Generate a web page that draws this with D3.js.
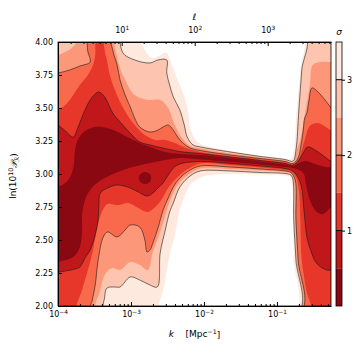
<!DOCTYPE html>
<html>
<head>
<meta charset="utf-8">
<script src="https://cdn.jsdelivr.net/npm/d3@7"></script>
<style>
	body { margin: 0; background: #fff; }
	text { font-family: "DejaVu Sans", sans-serif; fill: #000; }
</style>
</head>
<body>
<div id="chart"></div>
<script>
// filled contour levels (sigma) and the ones that get a black line
const levels = [0.5, 1, 1.5, 2, 2.5, 3, 3.5];
const lineLevels = [1, 2, 3];
const cbarTicks = [1, 2, 3];

const kRange = [1e-4, 0.55];
const lnPRange = [2, 4];
const xMajor = [1e-4, 1e-3, 1e-2, 1e-1];
const yTicks = [2.0, 2.25, 2.5, 2.75, 3.0, 3.25, 3.5, 3.75, 4.0];
const ellMajor = [10, 100, 1000];
const ellPerK = 1.34e4; // l ~ k * D_ls

// contour regions, points are [log10 k, ln(10^10 P)]
// sigma > 3.5 (white)
const sig35Upper = [[-2.86,4.05],[-2.81,3.94],[-2.71,3.88],[-2.60,3.90],[-2.52,3.92],[-2.44,3.83],[-2.36,3.71],[-2.29,3.62],[-2.22,3.48],[-2.19,3.35],[-2.12,3.26],[-2.05,3.23],[-1.64,3.174],[-1.23,3.140],[-0.89,3.117],[-0.81,3.114],[-0.77,3.182],[-0.73,3.485],[-0.68,3.788],[-0.66,4.05]];
const sig35Lower = [[-2.60,1.95],[-2.56,2.121],[-2.53,2.197],[-2.47,2.386],[-2.40,2.538],[-2.33,2.727],[-2.26,2.841],[-2.19,2.917],[-2.11,2.955],[-1.99,2.985],[-1.64,3.000],[-1.23,2.996],[-0.89,2.989],[-0.82,2.977],[-0.79,2.917],[-0.78,2.652],[-0.77,2.348],[-0.75,1.95]];
// sigma > 3
const sig3Upper = [[-3.11,4.05],[-3.11,3.917],[-2.95,3.864],[-2.74,3.841],[-2.63,3.864],[-2.51,3.864],[-2.51,3.765],[-2.47,3.674],[-2.42,3.583],[-2.33,3.485],[-2.27,3.371],[-2.23,3.280],[-2.15,3.220],[-2.05,3.205],[-1.64,3.167],[-1.23,3.133],[-0.89,3.110],[-0.78,3.098],[-0.74,3.182],[-0.70,3.485],[-0.66,3.788],[-0.62,4.05]];
const sig3Lower = [[-3.36,1.95],[-3.36,2.068],[-3.33,2.136],[-3.22,2.144],[-3.15,2.144],[-3.01,2.220],[-2.88,2.197],[-2.74,2.159],[-2.64,2.144],[-2.60,2.402],[-2.53,2.576],[-2.47,2.712],[-2.42,2.780],[-2.33,2.902],[-2.19,2.985],[-2.05,3.023],[-1.64,3.023],[-1.23,3.011],[-0.89,3.004],[-0.81,2.992],[-0.78,2.955],[-0.77,2.652],[-0.74,2.348],[-0.71,1.95]];
// sigma > 2.5
const sig25Corner = [[-4.10,4.05],[-4.10,3.902],[-3.90,3.924],[-3.77,3.977],[-3.73,4.05]];
const sig25Upper = [[-3.19,4.05],[-3.18,3.864],[-3.08,3.712],[-2.95,3.598],[-2.77,3.561],[-2.60,3.561],[-2.49,3.500],[-2.40,3.371],[-2.30,3.273],[-2.19,3.212],[-2.05,3.193],[-1.64,3.155],[-1.23,3.125],[-0.89,3.102],[-0.78,3.087],[-0.73,3.182],[-0.68,3.258],[-0.62,3.447],[-0.55,3.674],[-0.51,3.826],[-0.41,3.848],[-0.15,3.864],[-0.15,4.05]];
const sig25Lower = [[-3.47,1.95],[-3.42,2.121],[-3.36,2.235],[-3.26,2.288],[-3.15,2.273],[-3.01,2.333],[-2.88,2.311],[-2.77,2.273],[-2.70,2.409],[-2.60,2.561],[-2.53,2.689],[-2.45,2.818],[-2.36,2.917],[-2.22,2.992],[-2.05,3.042],[-1.64,3.038],[-1.23,3.027],[-0.89,3.015],[-0.81,3.004],[-0.77,2.955],[-0.75,2.652],[-0.73,2.348],[-0.70,1.95]];
// sigma > 2
const sig2Corner = [[-4.10,4.05],[-4.10,3.758],[-4.00,3.765],[-3.84,3.788],[-3.70,3.818],[-3.56,3.848],[-3.59,3.924],[-3.64,4.05]];
const sig2Upper = [[-3.26,4.05],[-3.25,3.939],[-3.19,3.826],[-3.15,3.712],[-3.08,3.598],[-3.01,3.508],[-2.95,3.424],[-2.88,3.356],[-2.74,3.318],[-2.63,3.333],[-2.56,3.356],[-2.49,3.371],[-2.42,3.333],[-2.36,3.280],[-2.29,3.235],[-2.19,3.197],[-2.05,3.178],[-1.64,3.144],[-1.23,3.117],[-0.89,3.095],[-0.78,3.080],[-0.71,3.121],[-0.67,3.220],[-0.64,3.333],[-0.62,3.424],[-0.59,3.462],[-0.56,3.561],[-0.52,3.652],[-0.41,3.606],[-0.32,3.545],[-0.23,3.485],[-0.15,3.455],[-0.15,4.05]];
const sig2Lower = [[-3.56,1.95],[-3.53,2.045],[-3.49,2.159],[-3.45,2.348],[-3.38,2.523],[-3.32,2.561],[-3.19,2.523],[-3.08,2.576],[-3.01,2.614],[-2.88,2.598],[-2.81,2.500],[-2.78,2.409],[-2.74,2.424],[-2.70,2.477],[-2.63,2.591],[-2.56,2.727],[-2.49,2.818],[-2.42,2.902],[-2.33,2.970],[-2.19,3.030],[-2.05,3.061],[-1.64,3.053],[-1.23,3.038],[-0.89,3.023],[-0.81,3.011],[-0.75,2.955],[-0.74,2.652],[-0.71,2.348],[-0.68,1.95]];
// sigma > 1.5
const sig15Corner = [[-4.10,4.05],[-4.10,3.470],[-4.00,3.485],[-3.90,3.523],[-3.81,3.583],[-3.70,3.674],[-3.59,3.750],[-3.52,3.826],[-3.49,3.902],[-3.49,3.977],[-3.48,4.05]];
const sig15Upper = [[-3.34,4.05],[-3.36,3.939],[-3.33,3.864],[-3.29,3.750],[-3.22,3.636],[-3.15,3.545],[-3.05,3.447],[-2.95,3.371],[-2.81,3.295],[-2.67,3.258],[-2.53,3.258],[-2.40,3.235],[-2.26,3.201],[-2.05,3.167],[-1.64,3.136],[-1.23,3.110],[-0.89,3.087],[-0.78,3.072],[-0.71,3.106],[-0.66,3.182],[-0.62,3.258],[-0.55,3.364],[-0.44,3.386],[-0.33,3.356],[-0.23,3.318],[-0.15,3.295],[-0.15,4.05]];
const sig15Lower = [[-3.73,1.95],[-3.67,2.121],[-3.59,2.273],[-3.52,2.424],[-3.47,2.576],[-3.40,2.712],[-3.32,2.773],[-3.18,2.765],[-3.04,2.780],[-2.90,2.742],[-2.77,2.712],[-2.64,2.765],[-2.56,2.826],[-2.49,2.894],[-2.40,2.955],[-2.26,3.023],[-2.05,3.080],[-1.64,3.068],[-1.23,3.049],[-0.89,3.030],[-0.81,3.019],[-0.74,2.977],[-0.70,2.879],[-0.68,2.652],[-0.66,2.348],[-0.60,2.121],[-0.55,1.95]];
// sigma > 1
const sig1Upper = [[-4.10,3.386],[-4.00,3.371],[-3.90,3.326],[-3.79,3.280],[-3.73,3.348],[-3.63,3.485],[-3.53,3.583],[-3.44,3.621],[-3.36,3.583],[-3.25,3.462],[-3.15,3.394],[-3.05,3.333],[-2.96,3.280],[-2.88,3.242],[-2.74,3.220],[-2.60,3.201],[-2.47,3.186],[-2.33,3.170],[-2.05,3.155],[-1.64,3.129],[-1.23,3.102],[-0.89,3.080],[-0.78,3.068],[-0.71,3.098],[-0.64,3.159],[-0.58,3.205],[-0.48,3.182],[-0.38,3.144],[-0.23,3.083],[-0.15,3.061],[-0.15,4.05],[-4.10,4.05]];
const sig1Lower = [[-4.10,2.273],[-4.00,2.258],[-3.90,2.265],[-3.77,2.280],[-3.70,2.295],[-3.63,2.364],[-3.56,2.424],[-3.49,2.538],[-3.45,2.652],[-3.44,2.765],[-3.42,2.856],[-3.32,2.894],[-3.19,2.917],[-3.10,2.909],[-3.01,2.894],[-2.90,2.864],[-2.78,2.833],[-2.70,2.856],[-2.63,2.894],[-2.56,2.932],[-2.49,2.992],[-2.42,3.045],[-2.33,3.076],[-2.05,3.095],[-1.64,3.080],[-1.23,3.061],[-0.89,3.042],[-0.81,3.030],[-0.74,3.000],[-0.67,2.917],[-0.63,2.727],[-0.59,2.523],[-0.53,2.409],[-0.47,2.333],[-0.40,2.295],[-0.32,2.273],[-0.15,2.265],[-0.15,1.95],[-4.10,1.95]];
// sigma < 0.5 (darkest)
const sig05Main = [[-4.10,2.894],[-3.97,2.909],[-3.86,2.955],[-3.79,3.045],[-3.77,3.167],[-3.73,3.258],[-3.63,3.326],[-3.49,3.356],[-3.33,3.348],[-3.18,3.318],[-3.05,3.280],[-2.88,3.235],[-2.74,3.205],[-2.53,3.167],[-2.33,3.152],[-2.05,3.144],[-1.64,3.121],[-1.23,3.095],[-0.89,3.072],[-0.78,3.061],[-0.71,3.080],[-0.62,3.098],[-0.48,3.076],[-0.34,3.053],[-0.15,3.038],[-0.15,2.818],[-0.26,2.750],[-0.37,2.697],[-0.47,2.720],[-0.55,2.803],[-0.60,2.917],[-0.64,3.008],[-0.78,3.045],[-0.89,3.053],[-1.23,3.072],[-1.64,3.091],[-2.05,3.110],[-2.33,3.121],[-2.74,3.083],[-3.11,3.030],[-3.33,2.977],[-3.45,2.939],[-3.56,2.879],[-3.63,2.803],[-3.67,2.689],[-3.67,2.576],[-3.70,2.447],[-3.79,2.371],[-3.95,2.341],[-4.10,2.333]];
const sig05Spot = [[-2.88,2.992],[-2.81,3.015],[-2.73,2.992],[-2.74,2.939],[-2.82,2.924],[-2.89,2.955]];

const holeTable = [
	[3.5, [sig35Upper, sig35Lower]],
	[3, [sig3Upper, sig3Lower]],
	[2.5, [sig25Corner, sig25Upper, sig25Lower]],
	[2, [sig2Corner, sig2Upper, sig2Lower]],
	[1.5, [sig15Corner, sig15Upper, sig15Lower]],
	[1, [sig1Upper, sig1Lower]],
];
const innerRegions = [sig05Main, sig05Spot];

const width = 354, height = 354;
const svg = d3.select("#chart").append("svg").attr("width", width).attr("height", height);

const x = d3.scaleLog().domain(kRange).range([58, 331]);
const y = d3.scaleLinear().domain(lnPRange).range([306, 42]);
const ell = d3.scaleLog().domain(kRange.map(k => k * ellPerK)).range(x.range());
const bandColor = (hi) => d3.interpolateReds(1 - (hi - 0.25) / 3.5);

const toPx = (p) => [x(10 ** p[0]), y(p[1])];
const ring = d3.line().curve(d3.curveCatmullRomClosed.alpha(0.5));
const [x0, x1] = x.range();
const [y1, y0] = y.range();
const rectPath = `M${x0 - 5},${y0 - 5}H${x1 + 5}V${y1 + 5}H${x0 - 5}Z`;

svg.append("clipPath").attr("id", "plot-clip")
	.append("rect").attr("x", x0).attr("y", y0).attr("width", x1 - x0).attr("height", y1 - y0);

const plot = svg.append("g").attr("clip-path", "url(#plot-clip)");

// sigma < level regions: the plot minus the holes, outer level first
for (const [lev, holes] of holeTable) {
	plot.append("path")
		.attr("class", "band")
		.attr("d", rectPath + holes.map(h => ring(h.map(toPx))).join(""))
		.attr("fill-rule", "evenodd")
		.attr("fill", bandColor(lev));
}
plot.selectAll(".inner")
	.data(innerRegions)
	.join("path")
	.attr("class", "inner")
	.attr("d", d => ring(d.map(toPx)))
	.attr("fill", bandColor(0.5));

// contour lines
for (const [lev, holes] of holeTable) {
	if (!lineLevels.includes(lev)) continue;
	plot.selectAll(null)
		.data(holes)
		.join("path")
		.attr("d", d => ring(d.map(toPx)))
		.attr("fill", "none")
		.attr("stroke", "#1a1a1a")
		.attr("stroke-width", 0.6);
}

// axes
const sup = (sel, exps) => sel.selectAll(".tick text").each(function (d, i) {
	const t = d3.select(this).text("10");
	t.append("tspan").attr("dy", "-0.5em").attr("font-size", "5.8px").text(exps[i]);
});
const minorOf = (lo, hi) => {
	const out = [];
	for (let e = Math.floor(Math.log10(lo)); e <= Math.ceil(Math.log10(hi)); e++)
		for (let m = 2; m <= 9; m++) {
			const v = m * 10 ** e;
			if (v > lo && v < hi) out.push(v);
		}
	return out;
};

const gx = svg.append("g").attr("transform", `translate(0,${y1})`)
	.call(d3.axisBottom(x).tickValues(xMajor).tickSizeInner(-4).tickSizeOuter(0).tickPadding(5));
gx.selectAll("text").attr("font-size", "8px").attr("font-family", "DejaVu Sans");
sup(gx, ["\u22124", "\u22123", "\u22122", "\u22121"]);
svg.append("g").attr("transform", `translate(0,${y1})`)
	.call(d3.axisBottom(x).tickValues(minorOf(...kRange)).tickSizeInner(-2).tickSizeOuter(0).tickFormat(""))
	.call(g => g.select(".domain").remove());

const gt = svg.append("g").attr("transform", `translate(0,${y0})`)
	.call(d3.axisTop(ell).tickValues(ellMajor).tickSizeInner(-4).tickSizeOuter(0).tickPadding(9));
gt.selectAll("text").attr("font-size", "8px").attr("font-family", "DejaVu Sans");
sup(gt, ["1", "2", "3"]);
svg.append("g").attr("transform", `translate(0,${y0})`)
	.call(d3.axisTop(ell).tickValues(minorOf(...ell.domain())).tickSizeInner(-2).tickSizeOuter(0).tickFormat(""))
	.call(g => g.select(".domain").remove());

const gy = svg.append("g").attr("transform", `translate(${x0},0)`)
	.call(d3.axisLeft(y).tickValues(yTicks).tickSizeInner(-4).tickSizeOuter(0).tickPadding(5).tickFormat(d3.format(".2f")));
gy.selectAll("text").attr("font-size", "8px").attr("font-family", "DejaVu Sans");

svg.append("rect")
	.attr("x", x0).attr("y", y0).attr("width", x1 - x0).attr("height", y1 - y0)
	.attr("fill", "none").attr("stroke", "#000").attr("stroke-width", 0.8);

// axis labels
svg.append("text")
	.attr("transform", `translate(16,${(y0 + y1) / 2 + 2}) rotate(-90)`)
	.attr("text-anchor", "middle").attr("font-size", "9px")
	.call(t => {
		t.append("tspan").text("ln(10");
		t.append("tspan").attr("dy", "-0.5em").attr("font-size", "6.3px").text("10");
		t.append("tspan").attr("dy", "0.5em").attr("font-style", "italic").text("\uD835\uDCAB");
		t.append("tspan").attr("dy", "0.3em").attr("font-size", "6.3px").text("\u211B");
		t.append("tspan").attr("dy", "-0.3em").text(")");
	});

svg.append("text")
	.attr("x", (x0 + x1) / 2).attr("y", 337)
	.attr("text-anchor", "middle").attr("font-size", "9px")
	.call(t => {
		t.append("tspan").attr("font-style", "italic").text("k");
		t.append("tspan").attr("xml:space", "preserve").text("    [Mpc");
		t.append("tspan").attr("dy", "-0.45em").attr("font-size", "6.3px").text("\u22121");
		t.append("tspan").attr("dy", "0.45em").text("]");
	});

svg.append("text")
	.attr("x", (x0 + x1) / 2).attr("y", 20)
	.attr("text-anchor", "middle").attr("font-size", "9px").attr("font-style", "italic")
	.text("\u2113");

// colorbar
const cbX = 336, cbW = 6;
const c = d3.scaleLinear().domain([0, 3.5]).range([y1, y0]);
const cbar = svg.append("g");
cbar.selectAll("rect.lev")
	.data(levels)
	.join("rect")
	.attr("class", "lev")
	.attr("x", cbX).attr("width", cbW)
	.attr("y", d => c(d)).attr("height", d => c(d - 0.5) - c(d))
	.attr("fill", d => bandColor(d));
cbar.selectAll("line.lev")
	.data(lineLevels)
	.join("line")
	.attr("class", "lev")
	.attr("x1", cbX).attr("x2", cbX + cbW)
	.attr("y1", d => c(d)).attr("y2", d => c(d))
	.attr("stroke", "#000").attr("stroke-width", 1);
cbar.append("rect")
	.attr("x", cbX).attr("y", y0).attr("width", cbW).attr("height", y1 - y0)
	.attr("fill", "none").attr("stroke", "#000").attr("stroke-width", 0.8);
const gc = svg.append("g").attr("transform", `translate(${cbX + cbW},0)`)
	.call(d3.axisRight(c).tickValues(cbarTicks).tickSizeInner(3).tickSizeOuter(0).tickPadding(2).tickFormat(d3.format("d")))
	.call(g => g.select(".domain").remove());
gc.selectAll("text").attr("font-size", "8px").attr("font-family", "DejaVu Sans");

svg.append("text")
	.attr("x", cbX + cbW / 2).attr("y", 35)
	.attr("text-anchor", "middle").attr("font-size", "9px").attr("font-style", "italic")
	.text("\u03C3");
</script>
</body>
</html>
